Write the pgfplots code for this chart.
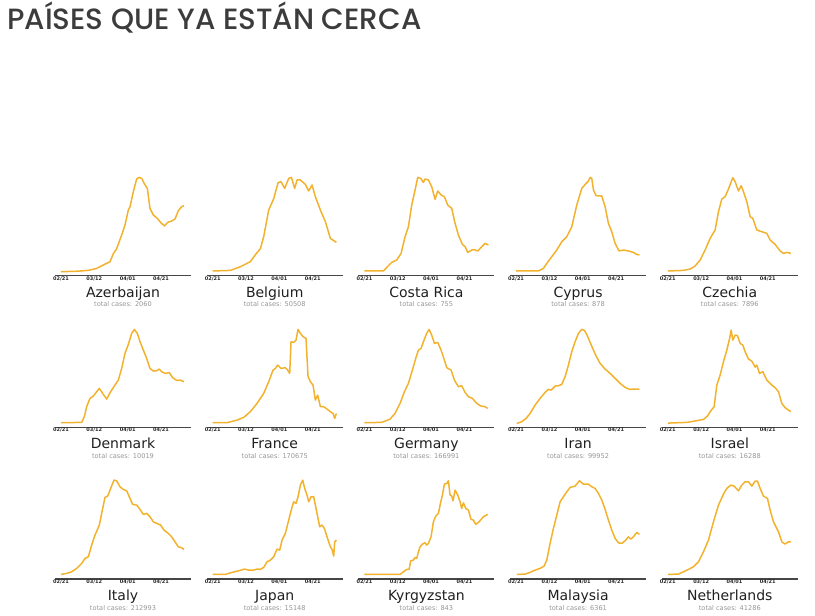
\documentclass[border=0pt]{standalone}
\usepackage{pgfplots}
\pgfplotsset{compat=1.18}
\usepackage{fontspec}
\setmainfont{DejaVu Sans}
\newfontfamily\poppins{Poppins}[UprightFont=* Medium]
\definecolor{linec}{RGB}{242,178,45}
\definecolor{axisgray}{RGB}{70,70,70}
\definecolor{tickgray}{RGB}{40,40,40}
\definecolor{titlegray}{RGB}{60,60,60}
\definecolor{casegray}{RGB}{150,150,150}
\pgfplotsset{panel/.style={
  scale only axis, width=136pt, height=100pt,
  xmin=-3.6, xmax=78, ymin=0, ymax=100,
  axis y line=none, axis x line=bottom,
  axis line style={-},
  x axis line style={-, line width=1.3pt, draw=axisgray},
  xtick={0,20,40,60}, xticklabels={02/21,03/12,04/01,04/21},
  major tick length=0pt,
  xticklabel style={font=\fontsize{5}{6}\selectfont\bfseries, text=tickgray, inner sep=0.5pt},
  clip=false, anchor=south west,
}}
\newcommand{\panel}[5]{%
\begin{axis}[panel, at={({55pt+#1*151.7pt},{340.3pt-#2*151.7pt})}]
\addplot[color=linec, line width=1.5pt, line join=round] coordinates {#5};
\node[anchor=base, font=\fontsize{14}{16}\selectfont, text=black!88] at (rel axis cs:0.5,0) [yshift=-21.6pt] {#3};
\node[anchor=base, font=\fontsize{6.6}{8}\selectfont, text=casegray] at (rel axis cs:0.5,0) [yshift=-31.3pt] {total cases: #4};
\end{axis}}
\begin{document}
\begin{tikzpicture}
\path[use as bounding box] (0,0) rectangle (815pt,616pt);
\node[anchor=base west, inner sep=0pt, font=\poppins\fontsize{29.3}{33}\selectfont, text=titlegray] at (7pt,586pt) {PAÍSES QUE YA ESTÁN CERCA};
\panel{0}{0}{Azerbaijan}{2060}{(0,4)(10,4.5)(16.4,5.3)(21.4,7.3)(25.4,10.7)(29.4,14)(31.4,22)(33.4,27)(36.4,40.7)(38.4,50.7)(40.4,65.7)(41.4,69)(43.4,84)(45.4,96.7)(47,98.3)(48.4,97.3)(50,92)(51.8,87.3)(53.4,67.3)(55.4,60.7)(57.8,57.3)(59.8,53.3)(62,49.7)(64,53.3)(66.4,54.7)(68.4,56.7)(70.4,65)(72.4,69)(73.8,70)}
\panel{1}{0}{Belgium}{50508}{(0,4.7)(10.6,5.3)(16.6,9)(22.6,14)(25.6,21)(28.6,27)(30.6,39)(33.6,65.7)(36.6,77)(39.2,93)(41,94)(43.2,87.3)(45.6,97.3)(47.2,98.3)(49.2,87.3)(50.6,95.7)(52.6,95.7)(55.6,91.3)(57.6,84.7)(59.6,90.7)(61.6,79)(64.6,65.7)(67.6,54)(70.6,37.3)(74.2,33.3)}
\panel{2}{0}{Costa Rica}{755}{(0,4.7)(11.4,4.7)(14.4,10)(16.4,13.3)(19.4,15.7)(22,22.3)(24.4,39)(26.4,49)(28.4,70.7)(30.4,85.7)(32,98.3)(33.8,97.3)(35.4,93.3)(36.4,96.7)(38.4,95.7)(40.4,89)(42.4,76.3)(44,84.7)(46,80.7)(48,79)(50,70.7)(52.4,67.3)(54.4,52.3)(56.4,40.7)(58.8,31.3)(60.4,29)(62,23.3)(64.4,25.7)(66,26)(68,24.7)(70.4,29)(72.4,32.3)(74.4,30.7)}
\panel{3}{0}{Cyprus}{878}{(0,4.7)(13.4,4.7)(16.4,7.3)(18.4,12.3)(21.4,19)(24.4,25.7)(27.4,34)(30.4,39)(33.4,49)(36.4,70.7)(39.4,87.3)(42,92.3)(43.4,94.7)(44.4,98.3)(45.4,97.3)(46.4,85.7)(48,80)(51.4,79.7)(53.4,69)(55.4,52.3)(57.4,44)(59.4,32.3)(61.8,24.7)(64.4,25.7)(67.4,24.7)(70.4,23.3)(72.4,21.3)(74,20.7)}
\panel{4}{0}{Czechia}{7896}{(0,4.7)(9.4,5.3)(13.4,6.7)(16.4,9.7)(19.4,15.7)(22.4,25.7)(25.4,37.3)(28.4,45.7)(30.4,64)(32.4,76.7)(34.4,79)(36.4,86.7)(39,98)(40.4,94)(42.4,84.7)(44,90)(45.4,84)(47.4,74)(49.4,59)(51,57.3)(53.4,45.7)(56.4,44)(59.4,42.3)(61.4,35.7)(64.4,31.3)(67.4,24.7)(69.4,22.3)(71.4,23.3)(73.8,22.3)}
\panel{0}{1}{Denmark}{10019}{(0,4.7)(12.4,5)(14,10.7)(15.4,20.7)(17.4,29)(19.4,31.3)(21.4,35.7)(23,39)(25.4,33)(27.4,28.3)(29.8,35.7)(32.4,42.3)(34.4,47.3)(36.4,59)(38.4,74)(40.4,83)(42.4,94)(44,98)(45.8,94)(47.4,85.7)(49.4,77.3)(51.4,69)(53.4,59)(55.4,56.3)(57.4,56.7)(59,58.3)(60.4,55.7)(62.4,54)(65,54.7)(67,49.7)(69.4,47)(71.4,47.3)(73.8,45.7)}
\panel{1}{1}{France}{170675}{(0,4.7)(8.6,4.7)(14.6,7.3)(18.6,10)(22.6,15.7)(26.6,24)(30.6,34)(33.6,45.7)(36.2,57.3)(37.6,59)(39,62.3)(41,59)(43.6,59.7)(45,57.3)(46.2,54)(47,85.7)(48.6,85)(50,87.3)(51.2,98)(52.6,94)(54.2,90.7)(56,89)(57.2,50.7)(58.6,45.7)(60.2,42.3)(61.6,27.3)(63,32.3)(64.6,20.7)(66.6,20.7)(68.6,18.3)(70.6,15.7)(72.2,14)(73.2,9)(74.2,14)}
\panel{2}{1}{Germany}{166991}{(0,4.7)(10.4,5)(15.4,8.3)(18.4,14)(21.4,24)(24,35.7)(26.4,44)(28.8,57.3)(30.8,69)(32.4,77.3)(34,79)(36,88.3)(37.4,94)(38.8,98)(40.4,92.3)(42,84)(44,85)(46,77.3)(48,67.3)(49.4,59.7)(52,57.3)(54,47.3)(56.4,40.7)(58.4,41.7)(60.4,35)(62.4,30.7)(64.8,29)(67.4,24)(70,21.3)(72.4,20.7)(74,19)}
\panel{3}{1}{Iran}{99952}{(0.4,4)(3.4,5.7)(6,9)(8.4,14)(11.4,22.3)(14.4,29)(17.4,35)(19.4,38)(21,37.3)(23.4,41.3)(25.4,41.7)(27.4,43)(29.4,50.7)(31.4,62.3)(33.4,75.7)(35.4,85.7)(37.4,94)(39.4,98)(41,97)(42.4,93)(44.4,85)(46.4,77.3)(48.4,70)(50.4,64)(53.4,58.3)(56.4,54)(59.4,49)(62.4,44)(65.4,40)(68,38)(70.4,38.3)(74,38.3)}
\panel{4}{1}{Israel}{16288}{(0,4.3)(11.4,5)(17.4,6.7)(21.4,8)(23.8,11.3)(25.4,15.7)(27.8,20.7)(29.4,42.3)(31.4,52.3)(33.4,65.7)(35.4,77.3)(37,88.3)(38,97.3)(39,87.3)(40.4,92.3)(41.8,91.7)(43.4,84)(45,82.3)(46.4,75.7)(48.4,68.3)(50.4,66.3)(52.4,60.3)(53.4,62.3)(55,54)(57,55.7)(59.4,47.3)(62.4,42.3)(64.4,39.7)(66.4,35.7)(68.4,24)(70.4,19.7)(72.4,17.3)(73.8,15.7)}
\panel{0}{2}{Italy}{212993}{(0,4.7)(3.4,5.7)(6.4,7.3)(9.4,10.7)(12.4,15.7)(14.4,20.7)(16.4,22.3)(18.4,34)(20.4,44)(23,54)(24.4,65.7)(26.4,81.7)(28,83)(29.8,90.7)(31.8,99)(33.4,98.3)(35.4,92.3)(37.4,89.7)(39.4,88.3)(41.4,80.7)(43,74.7)(45.4,74)(47.4,69.7)(49.4,64.7)(51.4,65.7)(53.4,62.3)(55.4,57.3)(57.4,55.7)(59.8,54)(61.8,49)(64.4,45.7)(66.4,42.3)(68.4,37.3)(70.4,32.3)(72.4,31.3)(73.8,29.7)}
\panel{1}{2}{Japan}{15148}{(0,4.7)(7.6,4.7)(11.6,6.7)(15.6,8.3)(19,10)(21.6,9)(24.6,9)(26.6,10)(28.6,9.7)(30.6,11.7)(32.6,17.3)(34.6,19)(36.6,22.3)(38.6,30)(40.2,29)(41.6,39)(43.6,45.7)(45.6,59)(47.6,72)(48.6,77.3)(50,75.7)(51.2,82.3)(52.6,94)(54,99)(55.2,90.7)(56.6,84)(57.6,77.3)(59,82.3)(60.6,82.3)(62.2,69)(64.2,52.3)(65.6,54)(67,50.7)(68.6,42.3)(70.6,32.3)(71.6,29.7)(72.6,23)(73.2,37.3)(74.2,39)}
\panel{2}{2}{Kyrgyzstan}{843}{(0,4.7)(21.4,4.7)(23.4,7.3)(25.4,9.7)(26.8,9.7)(27.8,18.3)(29.4,19)(30.4,21.7)(31.4,20.7)(32.4,27.3)(33.4,32.3)(34.8,35)(36.4,36.3)(37.4,34)(38.4,35.7)(40,42.3)(41.4,57.3)(42.8,63)(44.4,65.7)(45.6,75.7)(46.8,84)(48,95)(49.4,95.7)(50.4,98.3)(51.4,84)(52.4,83)(53.2,78.3)(54.4,89)(56,84)(57.4,77.3)(58.4,70.7)(59.4,76.3)(60.8,70.7)(62.4,69)(64,59.7)(65.4,59)(66.8,54.7)(68.8,57.3)(71.4,62.3)(74,64.7)}
\panel{3}{2}{Malaysia}{6361}{(0.4,4.7)(5.4,5)(8.4,6.7)(11.4,9)(14.4,10.7)(16.8,13)(18.4,19)(20.4,35.7)(22.4,50.7)(24.4,64)(26.4,77.3)(28.4,82.3)(30.4,87.3)(32.4,91.7)(35.4,93)(38,98.3)(40.4,95)(43.4,95)(45.4,92.3)(47.4,90.7)(49.4,85.7)(51.4,79)(53.4,69.7)(55.4,59)(57.4,49)(59.4,40.7)(61.4,36.3)(63.4,35.7)(65.4,38.3)(67.4,42.3)(68.8,40)(70.4,42.3)(72.4,46.7)(74,44.7)}
\panel{4}{2}{Netherlands}{41286}{(0,4.7)(6.4,5)(9.4,7.3)(12.4,9.7)(15.4,12.3)(18.4,17.3)(21.4,27.3)(24.4,39)(27.4,57.3)(30.4,74)(33.4,85)(35.4,90.7)(37.8,94)(39.8,93)(42.4,88.3)(44.4,94)(46.4,97.3)(48.4,97.3)(50.4,93)(52.4,98)(53.8,98)(55.4,90.7)(57.4,83)(59.8,80.7)(61.4,69)(63.4,57.3)(66.4,47.3)(68.4,37.3)(70.4,35)(72.4,37.3)(73.8,37.3)}
\end{tikzpicture}
\end{document}
